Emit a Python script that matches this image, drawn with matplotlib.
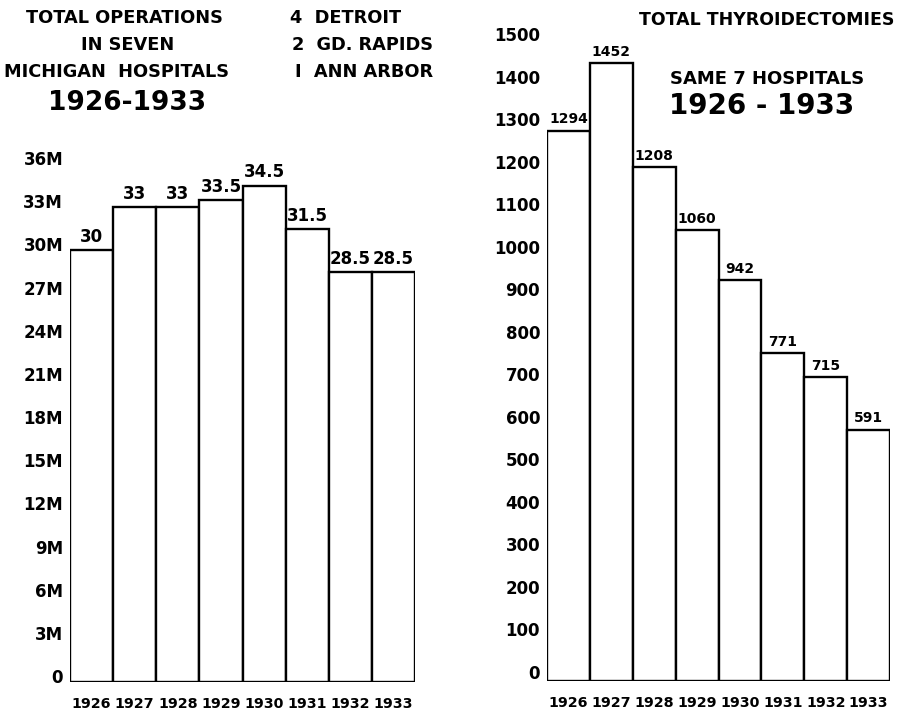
import matplotlib
matplotlib.use("Agg")
import matplotlib.pyplot as plt
from matplotlib import font_manager
from matplotlib.transforms import ScaledTranslation

# data
years = ["1926", "1927", "1928", "1929", "1930", "1931", "1932", "1933"]
operations = [30, 33, 33, 33.5, 34.5, 31.5, 28.5, 28.5]          # thousands (M)
operation_labels = ["30", "33", "33", "33.5", "34.5", "31.5", "28.5", "28.5"]
thyroidectomies = [1294, 1452, 1208, 1060, 942, 771, 715, 591]
ops_ticks = list(range(0, 37, 3))
ops_tick_labels = ["0"] + [f"{t}M" for t in ops_ticks[1:]]
thy_ticks = list(range(0, 1501, 100))

# pick a narrow face if the system has one
names = {f.name for f in font_manager.fontManager.ttflist}
family = "Liberation Sans Narrow" if "Liberation Sans Narrow" in names else "DejaVu Sans"
plt.rcParams["font.family"] = family
plt.rcParams["font.weight"] = "bold"

W, H = 899, 714
fig = plt.figure(figsize=(W / 100, H / 100), dpi=100)


def px(x, y):
    return x / W, 1 - y / H


def axes_px(x0, x1, y_top, y_bot):
    return fig.add_axes([x0 / W, 1 - y_bot / H, (x1 - x0) / W, (y_bot - y_top) / H])


def draw_panel(ax, values, labels, ticks, tick_labels, top, val_fs, lift):
    x = range(len(values))
    ax.bar(x, values, width=1.0, color="white", edgecolor="black", linewidth=1.7)
    for xi, v, lab in zip(x, values, labels):
        ax.annotate(lab, (xi, v), xytext=(0, 3), textcoords="offset points",
                    ha="center", va="bottom", fontsize=val_fs, fontweight="bold")
    ax.set_xlim(-0.5, len(values) - 0.5)
    ax.set_ylim(0, top)
    ax.set_yticks(ticks)
    ax.set_yticklabels(tick_labels, fontsize=12, fontweight="bold")
    ax.set_xticks(list(x))
    ax.set_xticklabels(years, fontsize=10.3, fontweight="bold")
    ax.tick_params(axis="y", length=0, pad=5)
    ax.tick_params(axis="x", length=0, pad=11)
    # the lettered scale sits a little above the true gridline in the original
    shift = ScaledTranslation(0, lift / 100, fig.dpi_scale_trans)
    for t in ax.get_yticklabels():
        t.set_transform(t.get_transform() + shift)
    for s in ax.spines.values():
        s.set_visible(False)
    ax.patch.set_visible(False)


ax1 = axes_px(70, 415, 164, 682)
draw_panel(ax1, operations, operation_labels, ops_ticks, ops_tick_labels, 36, 12, 6)

ax2 = axes_px(547, 890, 43, 681)
draw_panel(ax2, thyroidectomies, [str(v) for v in thyroidectomies],
           thy_ticks, [str(t) for t in thy_ticks], 1500, 10, 9)

fig.text(*px(124, 18), "TOTAL OPERATIONS", ha="center", va="center", fontsize=12.8)
fig.text(*px(128, 45), "IN SEVEN", ha="center", va="center", fontsize=12.8)
fig.text(*px(116, 72), "MICHIGAN  HOSPITALS", ha="center", va="center", fontsize=12.8)
fig.text(*px(127, 103), "1926-1933", ha="center", va="center", fontsize=19)

fig.text(*px(290, 18), "4  DETROIT", ha="left", va="center", fontsize=12.8)
fig.text(*px(292, 45), "2  GD. RAPIDS", ha="left", va="center", fontsize=12.8)
fig.text(*px(295, 72), "I  ANN ARBOR", ha="left", va="center", fontsize=12.8)

fig.text(*px(767, 20), "TOTAL THYROIDECTOMIES", ha="center", va="center", fontsize=12.5)
fig.text(*px(767, 79), "SAME 7 HOSPITALS", ha="center", va="center", fontsize=13)
fig.text(*px(762, 106), "1926 - 1933", ha="center", va="center", fontsize=20)

fig.savefig("out.png", dpi=100, facecolor="white")
